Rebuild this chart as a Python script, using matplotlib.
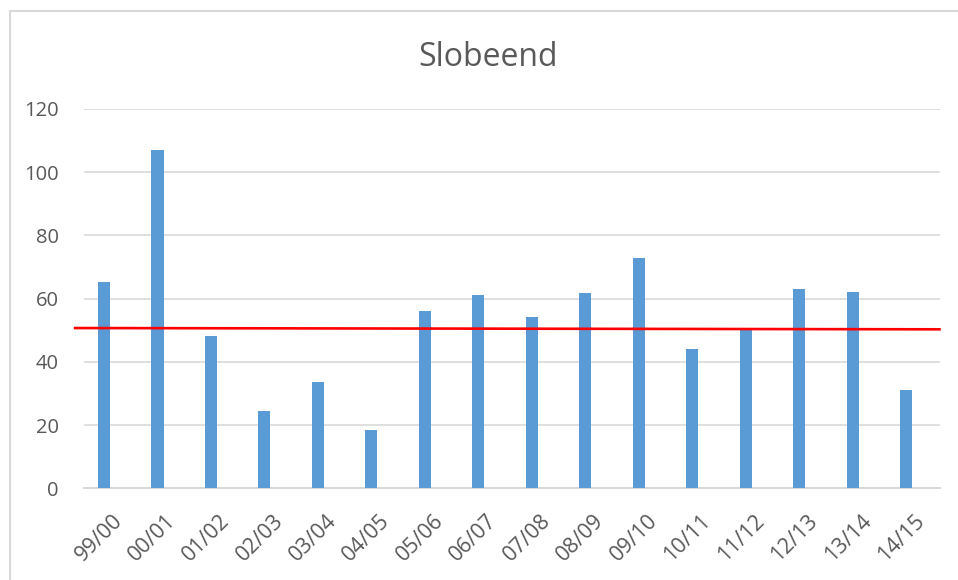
import matplotlib
matplotlib.use("Agg")
import matplotlib.pyplot as plt
from matplotlib.patches import Rectangle
from matplotlib.transforms import ScaledTranslation

plt.rcParams['font.family'] = ['Open Sans', 'DejaVu Sans']

seasons = ["99/00", "00/01", "01/02", "02/03", "03/04", "04/05", "05/06", "06/07",
           "07/08", "08/09", "09/10", "10/11", "11/12", "12/13", "13/14", "14/15"]
counts = [65.4, 107.0, 48.1, 24.3, 33.5, 18.3, 56.2, 61.3,
          54.1, 61.7, 72.9, 44.1, 50.2, 63.2, 62.2, 31.0]
ref_line = [50.7, 50.3]  # red reference line: value at left end, right end
yticks = [0, 20, 40, 60, 80, 100, 120]

text_col = "#595959"
grid_col = "#d9d9d9"
bar_col = "#5b9bd5"

fig = plt.figure(figsize=(9.58, 5.8), dpi=100)
W, H = 958, 580
ax = fig.add_axes([84 / W, (H - 488.3) / H, (940 - 84) / W, (488.3 - 109) / H])

x = list(range(len(seasons)))
ax.bar(x, counts, width=0.225, color=bar_col, zorder=3)

ax.set_xlim(-0.374, 15.63)
ax.set_ylim(0, 120)
ax.set_yticks(yticks)
ax.set_yticklabels([str(v) for v in yticks], fontsize=14.5, color=text_col)
ax.grid(axis='y', color=grid_col, linewidth=1.2, zorder=0)
ax.set_axisbelow(True)
for s in ['top', 'right', 'left']:
    ax.spines[s].set_visible(False)
ax.spines['bottom'].set_color(grid_col)
ax.spines['bottom'].set_linewidth(1.5)
ax.tick_params(axis='y', length=0, pad=18)
ax.tick_params(axis='x', length=0, pad=16)
ax.set_xticks(x)
ax.set_xticklabels(seasons, rotation=45, ha='right', rotation_mode='anchor',
                   fontsize=15.5, color=text_col)
off = ScaledTranslation(8 / 100, 0, fig.dpi_scale_trans)
for lab in ax.get_xticklabels():
    lab.set_transform(lab.get_transform() + off)

ax.plot([-0.54, 15.62], ref_line, color="#ff0000", linewidth=1.9, zorder=4, clip_on=False)

fig.text(488 / W, 1 - 57 / H, "Slobeend", ha='center', va='center', fontsize=23, color=text_col)

# chart area border
fig.patches.append(Rectangle((9.5 / W, -0.05), 1.2, 1 - 10.5 / H + 0.05, transform=fig.transFigure,
                             fill=False, edgecolor="#d9d9d9", linewidth=1.5))

fig.savefig("out.png", dpi=100)
